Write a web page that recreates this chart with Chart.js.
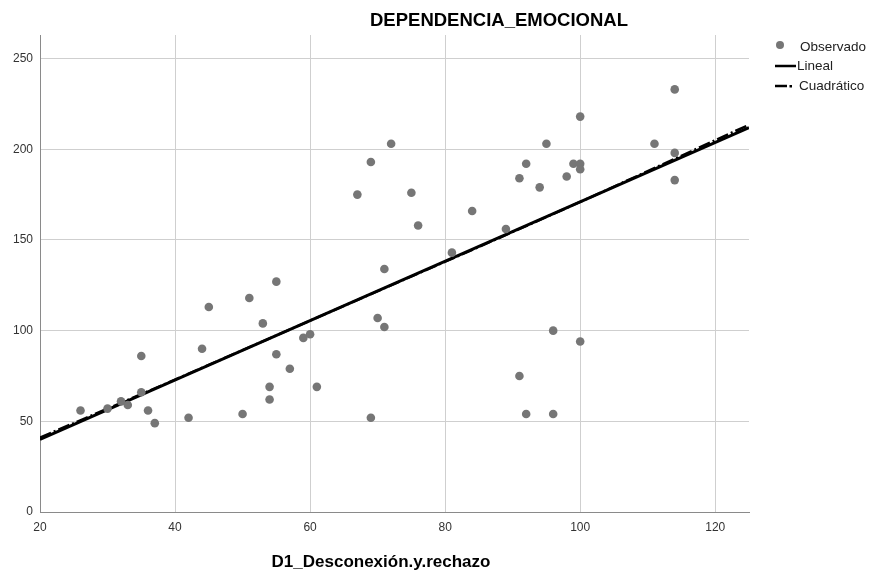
<!DOCTYPE html>
<html>
<head>
<meta charset="utf-8">
<script src="https://cdn.jsdelivr.net/npm/chart.js@4/dist/chart.umd.min.js"></script>
<style>
html,body{margin:0;padding:0;background:#fff;}
#wrap{position:relative;width:872px;height:572px;}
</style>
</head>
<body>
<div id="wrap"><canvas id="c" width="872" height="572"></canvas></div>
<script>
// Observed data (x = D1_Desconexión.y.rechazo, y = DEPENDENCIA_EMOCIONAL)
const obsX = [26,30,32,33,35,35,36,37,42,44,45,50,51,53,54,54,55,55,57,59,60,61,67,69,69,70,71,71,72,75,76,81,84,89,91,91,92,92,94,95,96,96,98,99,100,100,100,100,111,114,114,114];
const obsY = [56,57,61,59,86,66,56,49,52,90,113,54,118,104,69,62,127,87,79,96,98,69,175,193,52,107,134,102,203,176,158,143,166,156,184,75,192,54,179,203,100,54,185,192,192,189,218,94,203,198,233,183];
// Fitted lines
const linX = [20, 125];
const linY = [40, 212];
const quadX = [20, 40, 60, 80, 100, 125];
const quadY = [41, 73, 105.5, 138, 171, 213.5];
// Tick labels
const xTicks = [20, 40, 60, 80, 100, 120];
const yTicks = [0, 50, 100, 150, 200, 250];
const titleText = 'DEPENDENCIA_EMOCIONAL';
const xTitle = 'D1_Desconexión.y.rechazo';
const legendLabels = ['Observado', 'Lineal', 'Cuadrático'];

const FONT = '"Liberation Sans", Arial, sans-serif';
const pointColor = '#767676';

const overlay = {
  id: 'overlay',
  afterDraw(chart) {
    const ctx = chart.ctx;
    ctx.save();
    ctx.fillStyle = '#000';
    ctx.font = 'bold 18.5px ' + FONT;
    ctx.textAlign = 'center';
    ctx.textBaseline = 'middle';
    ctx.fillText(titleText, 499, 21);
    ctx.font = 'bold 17px ' + FONT;
    ctx.fillText(xTitle, 381, 562);
    // legend
    ctx.textAlign = 'left';
    ctx.font = '13.5px ' + FONT;
    ctx.fillStyle = '#222';
    ctx.fillText(legendLabels[0], 800, 47);
    ctx.fillText(legendLabels[1], 797, 66);
    ctx.fillText(legendLabels[2], 799, 86);
    ctx.beginPath();
    ctx.fillStyle = pointColor;
    ctx.arc(780, 45, 4, 0, Math.PI * 2);
    ctx.fill();
    ctx.strokeStyle = '#000';
    ctx.lineWidth = 2.5;
    ctx.beginPath();
    ctx.moveTo(775, 66); ctx.lineTo(796, 66); ctx.stroke();
    ctx.beginPath();
    ctx.moveTo(775, 86); ctx.lineTo(787, 86); ctx.stroke();
    ctx.fillStyle = '#000';
    ctx.fillRect(789.5, 85, 2.5, 2.5);
    ctx.restore();
  }
};

new Chart(document.getElementById('c'), {
  type: 'scatter',
  data: {
    datasets: [
      {
        label: legendLabels[2],
        type: 'line',
        data: quadX.map((x, i) => ({x: x, y: quadY[i]})),
        borderColor: '#000',
        borderWidth: 2.5,
        borderDash: [12, 3, 2, 3],
        pointRadius: 0,
        cubicInterpolationMode: 'monotone',
        fill: false,
        order: 3
      },
      {
        label: legendLabels[1],
        type: 'line',
        data: linX.map((x, i) => ({x: x, y: linY[i]})),
        borderColor: '#000',
        borderWidth: 3,
        pointRadius: 0,
        fill: false,
        order: 2
      },
      {
        label: legendLabels[0],
        data: obsX.map((x, i) => ({x: x, y: obsY[i]})),
        backgroundColor: pointColor,
        borderColor: pointColor,
        pointRadius: 4.3,
        borderWidth: 0,
        order: 1
      }
    ]
  },
  options: {
    responsive: false,
    animation: false,
    layout: { padding: { left: 0, right: 123, top: 35, bottom: 0 } },
    plugins: { legend: { display: false }, title: { display: false }, tooltip: { enabled: false } },
    scales: {
      x: {
        type: 'linear',
        min: 20, max: 125,
        afterFit(s) { s.height = 60; },
        afterBuildTicks(s) { s.ticks = xTicks.map(v => ({value: v})); },
        grid: { color: '#cfcfcf', lineWidth: 1, drawTicks: false },
        border: { color: '#8a8a8a', width: 1 },
        ticks: { color: '#333', font: { family: FONT, size: 12 }, padding: 8, maxRotation: 0 }
      },
      y: {
        type: 'linear',
        min: 0, max: 263,
        afterFit(s) { s.width = 40; },
        afterBuildTicks(s) { s.ticks = yTicks.map(v => ({value: v})); },
        grid: { color: '#cfcfcf', lineWidth: 1, drawTicks: false },
        border: { color: '#8a8a8a', width: 1 },
        ticks: { color: '#333', font: { family: FONT, size: 12 }, padding: 7 }
      }
    }
  },
  plugins: [overlay]
});
</script>
</body>
</html>
